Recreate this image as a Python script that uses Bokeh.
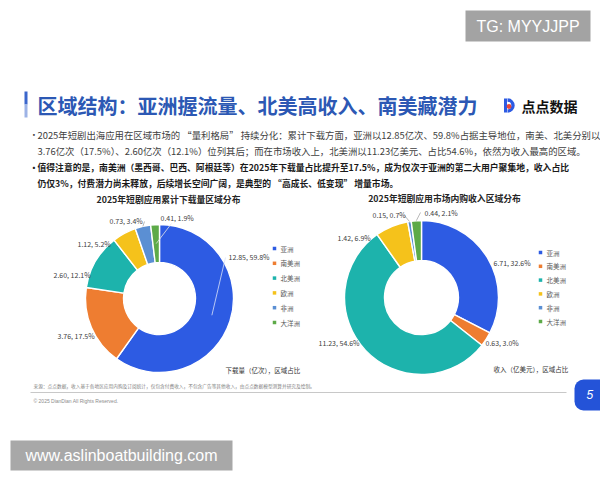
import numpy as np
from bokeh.plotting import figure
from bokeh.models import Range1d, BoxAnnotation, ColumnDataSource
from bokeh.core.properties import value
from bokeh.embed import file_html
from bokeh.resources import INLINE

# ---------------- data ----------------
regions = ["亚洲", "南美洲", "北美洲", "欧洲", "非洲", "大洋洲"]
downloads = [12.85, 3.76, 2.60, 1.12, 0.73, 0.41]          # 亿次
download_share = [59.8, 17.5, 12.1, 5.2, 3.4, 1.9]         # %
revenue = [6.71, 0.63, 11.23, 1.42, 0.15, 0.44]            # 亿美元
revenue_share = [32.6, 3.0, 54.6, 6.9, 0.7, 2.1]           # %

title_main = "区域结构：亚洲握流量、北美高收入、南美藏潜力"
chart1_title = "2025年短剧应用累计下载量区域分布"
chart2_title = "2025年短剧应用市场内购收入区域分布"
chart1_note = "下载量（亿次），区域占比"
chart2_note = "收入（亿美元），区域占比"
bullet_lines = [
    ("•", "2025年短剧出海应用在区域市场的 “量利格局” 持续分化：累计下载方面，亚洲以12.85亿次、59.8%占据主导地位，南美、北美分别以", False),
    ("", "3.76亿次（17.5%）、2.60亿次（12.1%）位列其后；而在市场收入上，北美洲以11.23亿美元、占比54.6%，依然为收入最高的区域。", False),
    ("•", "值得注意的是，南美洲（墨西哥、巴西、阿根廷等）在2025年下载量占比提升至17.5%，成为仅次于亚洲的第二大用户聚集地，收入占比", True),
    ("", "仍仅3%，付费潜力尚未释放，后续增长空间广阔，是典型的 “高成长、低变现” 增量市场。", True),
]
source_text = "来源：点点数据，收入基于各地区应用内购及订阅统计，仅包含付费收入，不包含广告等其他收入，由点点数据模型测算并研究及绘制。"
copyright_text = "© 2025 DianDian All Rights Reserved."

# ---------------- style / layout ----------------
colors = ["#2D5BE3", "#EE7D31", "#1DB3AC", "#F5C21B", "#5B8FD3", "#5DAA48"]
CJK = "Noto Sans CJK SC"

W, H = 600, 480
p = figure(width=W, height=H, x_range=Range1d(0, 600), y_range=Range1d(0, 480),
           output_backend="svg", toolbar_location=None, min_border=0)
p.axis.visible = False
p.grid.visible = False
p.outline_line_color = None
p.background_fill_color = "white"
p.border_fill_color = "white"


def Y(py):
    return 480 - py


def txt(x, y, s, size, color="#333333", bold=False, align="left", font=CJK, italic=False):
    style = "bold" if bold else "normal"
    if italic:
        style = "bold italic" if bold else "italic"
    p.text(x=[x], y=[Y(y)], text=[s], text_font=value(font), text_font_size=size,
           text_color=color, text_font_style=style, text_align=align, text_baseline="middle")


# ---------------- header ----------------
p.quad(left=[24], right=[27], top=[Y(91)], bottom=[Y(104)], fill_color="#3B66CC", line_color=None)
p.quad(left=[24], right=[27], top=[Y(104)], bottom=[Y(117)], fill_color="#9DB3E6", line_color=None)
txt(37, 105, title_main, "20px", color="#2C58B4", bold=True)

# logo
p.quad(left=[503.5], right=[506.5], top=[Y(98)], bottom=[Y(112)], fill_color="#2D5BE3", line_color=None)
p.annular_wedge(x=[507], y=[Y(105)], inner_radius=3.8, outer_radius=7.2,
                start_angle=-np.pi / 2, end_angle=np.pi / 2, fill_color="#2D5BE3", line_color=None)
p.circle(x=[508.5], y=[Y(106)], radius=2.4, fill_color="#E8463A", line_color=None)
txt(521, 105, "点点数据", "14px", color="#111111", bold=True)

# bullets
bullet_y = [134, 150, 167, 183]
for (b, line, bold), yy in zip(bullet_lines, bullet_y):
    col = "#1A1A1A" if bold else "#404040"
    size = "8.8px" if bold else "9.4px"
    if b:
        txt(29, yy, b, "8.8px", color=col, bold=bold)
    txt(37, yy, line, size, color=col, bold=bold)


# ---------------- donuts ----------------
def donut(cx, cy, R, r, vals, shares, label_pos, leaders, title, title_x, title_y,
          legend_x, legend_y0, legend_dy, note, note_x, note_y):
    vals = np.asarray(vals, dtype=float)
    frac = vals / vals.sum()
    cum = np.concatenate([[0.0], np.cumsum(frac)])
    start = np.pi / 2 - cum[:-1] * 2 * np.pi
    end = np.pi / 2 - cum[1:] * 2 * np.pi
    src = ColumnDataSource(dict(start=start, end=end, color=colors, name=regions))
    p.annular_wedge(x=cx, y=Y(cy), inner_radius=r, outer_radius=R, start_angle="start",
                    end_angle="end", direction="clock", fill_color="color",
                    line_color="white", line_width=1.4, source=src)

    # leader lines: from the wedge (mid angle) to the label
    mid = (start + end) / 2
    for i, (rad_frac, col) in leaders.items():
        rr = r + (R - r) * rad_frac
        x0 = cx + rr * np.cos(mid[i])
        y0 = Y(cy) + rr * np.sin(mid[i])
        lx, ly = label_pos[i][2], label_pos[i][3]
        p.line(x=[x0, lx], y=[y0, Y(ly)], line_color=col, line_width=0.8)

    labels = [f"{v:.2f}, {s:.1f}%" for v, s in zip(vals, shares)]
    lsrc = ColumnDataSource(dict(x=[lp[0] for lp in label_pos], y=[Y(lp[1]) for lp in label_pos],
                                 text=labels))
    p.text(x="x", y="y", text="text", source=lsrc, text_font=value(CJK), text_font_size="7px",
           text_color="#404040", text_align="left", text_baseline="middle")

    txt(title_x, title_y, title, "8.8px", color="#262626", bold=True, align="center")

    ly = [Y(legend_y0 + k * legend_dy) for k in range(len(regions))]
    p.scatter(x=[legend_x] * len(regions), y=ly, marker="square", size=3.5,
              fill_color=colors, line_color=None)
    p.text(x=[legend_x + 6] * len(regions), y=ly, text=regions, text_font=value(CJK),
           text_font_size="6.5px", text_color="#595959", text_align="left", text_baseline="middle")

    txt(note_x, note_y, note, "6.5px", color="#333333")


# label positions: (x, y, leader end x, leader end y)
left_labels = [(228, 256, 225, 257), (57, 335, 0, 0), (53, 274, 0, 0), (77, 243, 0, 0),
               (109, 220, 144, 221), (160, 217, 171, 223)]
left_leaders = {0: (0.5, "#D9E2F7"), 4: (1.0, "#A6A6A6"), 5: (0.5, "#E6E6E6")}
donut(159, 298, 74, 36, downloads, download_share, left_labels, left_leaders,
      chart1_title, 168, 199, 274, 248, 14.8, chart1_note, 225, 369)

right_labels = [(493, 262, 0, 0), (485, 342, 0, 0), (318, 342, 0, 0), (337, 237, 0, 0),
                (372, 214, 404, 215), (424, 212, 420, 212)]
right_leaders = {4: (1.0, "#A6A6A6"), 5: (1.0, "#A6A6A6")}
donut(421, 297, 77, 37, revenue, revenue_share, right_labels, right_leaders,
      chart2_title, 444, 198, 540, 252, 13.8, chart2_note, 493, 368)

# ---------------- footer ----------------
txt(33, 385, source_text, "4.7px", color="#7F7F7F")
p.line(x=[30, 566], y=[Y(392), Y(392)], line_color="#C8C8C8", line_width=1)
txt(33, 400, copyright_text, "5px", color="#8C8C8C", font="Liberation Sans")

p.add_layout(BoxAnnotation(left=574, right=610, top=Y(379), bottom=Y(410), level="underlay",
                           fill_color="#2453D8", fill_alpha=1.0, line_color=None, border_radius=9))
txt(586, 394, "5", "12px", color="white", italic=True, font="Liberation Sans")

# ---------------- watermarks ----------------
p.quad(left=[465], right=[590], top=[Y(10)], bottom=[Y(41)], fill_color="#A3A3A3", line_color=None)
txt(527.5, 26, "TG: MYYJJPP", "16px", color="white", align="center", font="Liberation Sans")
p.quad(left=[10], right=[232], top=[Y(440)], bottom=[Y(470)], fill_color="#A8A8A8", line_color=None)
txt(121, 455, "www.aslinboatbuilding.com", "16px", color="white", align="center", font="Liberation Sans")

open("out.html", "w").write(file_html(p, INLINE))
